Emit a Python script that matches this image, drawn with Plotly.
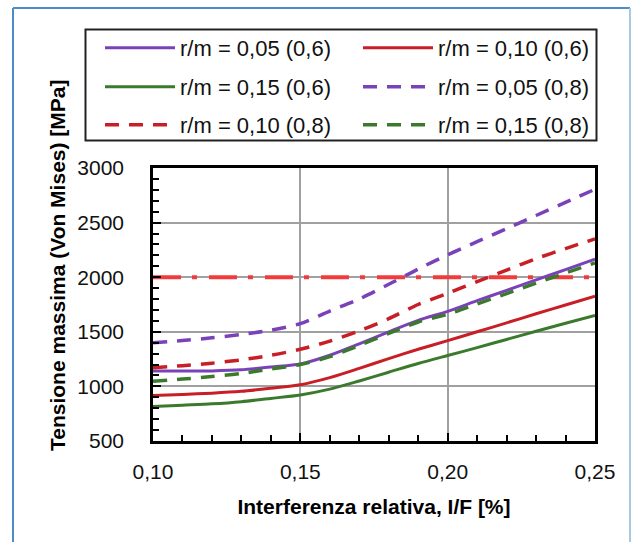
import plotly.graph_objects as go

# ---------------- data ----------------
x_vals = [0.10, 0.11, 0.12, 0.13, 0.14, 0.15, 0.16, 0.17, 0.18, 0.19, 0.20, 0.21, 0.22, 0.23, 0.24, 0.25]

rm005_06 = [1140, 1140, 1142, 1152, 1178, 1205, 1285, 1390, 1500, 1605, 1687, 1785, 1880, 1975, 2070, 2166]
rm010_06 = [917, 926, 938, 955, 983, 1015, 1080, 1165, 1255, 1340, 1419, 1500, 1582, 1665, 1745, 1825]
rm015_06 = [816, 828, 840, 860, 890, 922, 975, 1050, 1130, 1210, 1283, 1355, 1430, 1505, 1578, 1649]
rm005_08 = [1400, 1420, 1445, 1475, 1515, 1575, 1690, 1800, 1935, 2075, 2205, 2325, 2445, 2565, 2685, 2805]
rm010_08 = [1170, 1190, 1213, 1243, 1285, 1340, 1415, 1509, 1620, 1750, 1852, 1960, 2065, 2170, 2262, 2351]
rm015_08 = [1046, 1067, 1090, 1118, 1160, 1200, 1272, 1375, 1485, 1590, 1660, 1755, 1850, 1945, 2038, 2130]

limit_x = [0.10, 0.25]
limit_y = [2000, 2000]

series_names = ["r/m = 0,05 (0,6)", "r/m = 0,10 (0,6)", "r/m = 0,15 (0,6)",
                "r/m = 0,05 (0,8)", "r/m = 0,10 (0,8)", "r/m = 0,15 (0,8)"]

x_tickvals = [0.10, 0.15, 0.20, 0.25]
x_ticktext = ["0,10", "0,15", "0,20", "0,25"]
y_tickvals = [500, 1000, 1500, 2000, 2500, 3000]
y_ticktext = ["500", "1000", "1500", "2000", "2500", "3000"]

# ---------------- style ----------------
PURPLE = "#7a42b8"
RED = "#c81e26"
GREEN = "#3b7a2c"
LIMIT_RED = "#f23c3c"
FONT = "Liberation Sans Narrow, Arial Narrow, Liberation Sans, Arial, sans-serif"
DASH = "14px,10px"

W, H = 633, 542
L, R, T, B = 153, 38, 168, 101
PW, PH = W - L - R, H - T - B


def px_x(px):
    return (px - L) / PW


def px_y(py):
    return (H - B - py) / PH


fig = go.Figure()

fig.add_trace(go.Scatter(x=limit_x, y=limit_y, mode="lines", showlegend=False,
                         line=dict(color=LIMIT_RED, width=4, dash="28px,11px,5px,12px"),
                         hoverinfo="skip"))

series = [
    (rm005_06, PURPLE, "solid", "legend"),
    (rm010_06, RED, "solid", "legend"),
    (rm015_06, GREEN, "solid", "legend2"),
    (rm005_08, PURPLE, DASH, "legend2"),
    (rm010_08, RED, DASH, "legend3"),
    (rm015_08, GREEN, DASH, "legend3"),
]
for name, (vals, col, dash, leg) in zip(series_names, series):
    fig.add_trace(go.Scatter(
        x=x_vals, y=vals, name=name, mode="lines", legend=leg,
        line=dict(color=col, width=3.5 if dash != "solid" else 3, dash=dash,
                  shape="spline", smoothing=0.8),
    ))

# outer light-blue frame
frame_l, frame_t, frame_r = px_x(13), px_y(8), px_x(630)
frame_b = px_y(560)
fig.add_shape(type="line", xref="paper", yref="paper", x0=frame_l, x1=frame_l, y0=frame_b, y1=frame_t,
              line=dict(color="#4f8bc6", width=2))
fig.add_shape(type="line", xref="paper", yref="paper", x0=frame_l, x1=frame_r, y0=frame_t, y1=frame_t,
              line=dict(color="#4f8bc6", width=2))
fig.add_shape(type="line", xref="paper", yref="paper", x0=frame_r, x1=frame_r, y0=frame_b, y1=frame_t,
              line=dict(color="#a9c8e4", width=2))

# legend box
fig.add_shape(type="rect", xref="paper", yref="paper",
              x0=px_x(85.5), x1=px_x(596.5), y0=px_y(140.5), y1=px_y(29.5),
              line=dict(color="#222", width=2), fillcolor="rgba(0,0,0,0)")

fig.add_annotation(text="<b>Tensione massima (Von Mises) [MPa]</b>", textangle=-90,
                   xref="paper", yref="paper", x=px_x(57), y=px_y(266),
                   xanchor="center", yanchor="middle", showarrow=False,
                   font=dict(family=FONT, size=21, color="black"))


def legend_row(center_py):
    return dict(
        orientation="h", x=px_x(100), y=px_y(center_py), xanchor="left", yanchor="middle",
        borderwidth=0, bgcolor="rgba(0,0,0,0)",
        entrywidth=173, entrywidthmode="pixels", itemwidth=70,
        font=dict(family=FONT, size=22, color="#111"),
        traceorder="normal",
    )


fig.update_layout(
    width=W, height=H,
    margin=dict(l=L, r=R, t=T, b=B),
    paper_bgcolor="white", plot_bgcolor="white",
    font=dict(family=FONT, size=21, color="#111"),
    legend=legend_row(48),
    legend2=legend_row(87),
    legend3=legend_row(125),
    xaxis=dict(
        range=[0.10, 0.25], tickvals=x_tickvals, ticktext=x_ticktext,
        showgrid=True, gridcolor="#a0a0a0", gridwidth=1.5,
        showline=True, linecolor="black", linewidth=2.5, mirror=True,
        ticks="inside", ticklen=8, tickwidth=2, tickcolor="black",
        minor=dict(dtick=0.01, ticks="inside", ticklen=6, tickwidth=1.5, tickcolor="black", showgrid=False),
        ticklabelstandoff=10, zeroline=False,
        title=dict(text="<b>Interferenza relativa, I/F [%]</b>", standoff=18,
                   font=dict(family=FONT, size=21, color="black")),
    ),
    yaxis=dict(
        range=[500, 3000], tickvals=y_tickvals, ticktext=y_ticktext,
        showgrid=True, gridcolor="#a0a0a0", gridwidth=1.5,
        showline=True, linecolor="black", linewidth=2.5, mirror=True,
        ticks="inside", ticklen=8, tickwidth=2, tickcolor="black",
        minor=dict(dtick=100, ticks="inside", ticklen=6, tickwidth=1.5, tickcolor="black", showgrid=False),
        ticklabelstandoff=22, zeroline=False,
    ),
)

fig.write_html("out.html")
